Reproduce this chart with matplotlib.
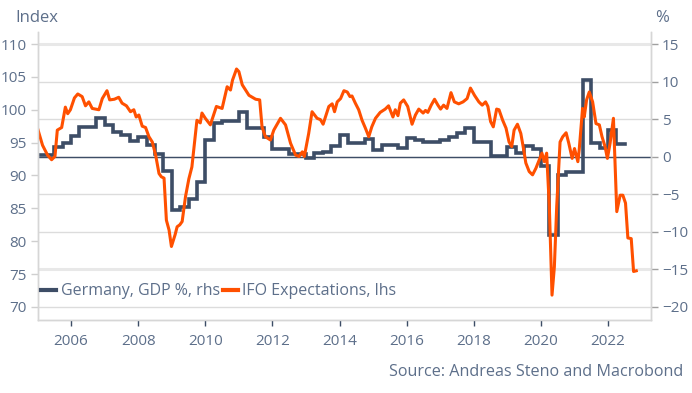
import matplotlib
matplotlib.use('Agg')
import matplotlib.pyplot as plt
from matplotlib.lines import Line2D

# IFO expectations (lhs) as (decimal year, index)
ifo_x = [2005.0, 2005.15, 2005.3, 2005.42, 2005.52, 2005.59, 2005.72, 2005.83, 2005.9, 2005.98,
         2006.1, 2006.2, 2006.33, 2006.43, 2006.53, 2006.63, 2006.83, 2006.93, 2007.07, 2007.15,
         2007.29, 2007.42, 2007.52, 2007.65, 2007.77, 2007.87, 2007.94, 2008.02, 2008.12, 2008.22,
         2008.32, 2008.42, 2008.52, 2008.62, 2008.69, 2008.77, 2008.84, 2008.92, 2008.99, 2009.1,
         2009.16, 2009.24, 2009.31, 2009.41, 2009.51, 2009.6, 2009.75, 2009.85, 2009.9, 2010.0,
         2010.15, 2010.33, 2010.5, 2010.65, 2010.75, 2010.81, 2010.93, 2011.0, 2011.1, 2011.3,
         2011.5, 2011.62, 2011.69, 2011.79, 2011.94, 2012.04, 2012.24, 2012.39, 2012.54, 2012.69,
         2012.79, 2012.89, 2012.95, 2013.08, 2013.18, 2013.33, 2013.43, 2013.51, 2013.68, 2013.78,
         2013.85, 2013.93, 2014.03, 2014.13, 2014.23, 2014.31, 2014.37, 2014.47, 2014.57, 2014.67,
         2014.77, 2014.87, 2014.96, 2015.07, 2015.21, 2015.36, 2015.46, 2015.59, 2015.66, 2015.74,
         2015.81, 2015.91, 2016.03, 2016.16, 2016.26, 2016.36, 2016.49, 2016.56, 2016.63, 2016.73,
         2016.83, 2016.93, 2017.01, 2017.1, 2017.2, 2017.32, 2017.42, 2017.55, 2017.68, 2017.8,
         2017.9, 2018.02, 2018.15, 2018.25, 2018.35, 2018.42, 2018.5, 2018.58, 2018.68, 2018.75,
         2018.86, 2018.96, 2019.05, 2019.13, 2019.2, 2019.3, 2019.4, 2019.47, 2019.55, 2019.65,
         2019.75, 2019.85, 2019.95, 2020.03, 2020.1, 2020.17, 2020.25, 2020.33, 2020.4, 2020.47,
         2020.57, 2020.65, 2020.75, 2020.83, 2020.93, 2021.0, 2021.1, 2021.14, 2021.24, 2021.29,
         2021.36, 2021.44, 2021.54, 2021.64, 2021.74, 2021.82, 2021.91, 2021.98, 2022.06, 2022.16,
         2022.26, 2022.36, 2022.44, 2022.52, 2022.59, 2022.69, 2022.76, 2022.84]
ifo_y = [97.2, 94.6, 93.1, 92.4, 92.9, 96.9, 97.3, 100.4, 99.4, 100.0,
         101.8, 102.4, 102.0, 100.6, 101.2, 100.2, 100.0, 101.7, 102.9, 101.5,
         101.6, 101.9, 101.0, 100.6, 99.7, 100.0, 98.9, 99.2, 97.5, 97.3,
         95.9, 95.1, 93.1, 90.3, 89.8, 89.6, 83.2, 81.7, 79.2, 81.0,
         82.2, 82.5, 83.0, 86.8, 89.5, 91.3, 98.4, 98.0, 99.5, 98.7,
         97.7, 100.5, 100.2, 103.5, 103.0, 104.5, 106.2, 105.8, 103.8, 102.2,
         101.6, 101.5, 97.4, 95.9, 95.4, 96.9, 98.7, 97.7, 94.9, 93.1,
         92.9, 93.6, 92.9, 96.4, 99.7, 98.7, 98.5, 97.8, 100.5, 100.9,
         99.7, 101.2, 101.7, 102.9, 102.7, 102.0, 102.1, 101.0, 100.0, 98.4,
         97.2, 95.9, 97.4, 98.7, 99.6, 100.1, 100.6, 98.9, 100.0, 99.1,
         101.0, 101.5, 100.5, 97.8, 99.2, 100.1, 99.5, 99.9, 99.6, 100.7,
         101.6, 100.7, 100.1, 100.7, 100.2, 102.6, 101.2, 100.9, 101.2, 101.7,
         103.3, 102.2, 101.2, 100.7, 101.2, 100.5, 98.2, 97.4, 100.1, 100.0,
         98.4, 97.2, 95.1, 94.4, 96.9, 97.8, 96.4, 94.4, 91.9, 90.6,
         90.1, 91.1, 92.4, 93.4, 92.1, 93.4, 85.3, 71.8, 76.1, 85.3,
         95.1, 95.9, 96.5, 94.9, 92.6, 94.1, 92.1, 93.9, 100.2, 98.9,
         101.5, 102.7, 101.2, 97.9, 97.7, 95.9, 94.4, 92.6, 94.9, 98.7,
         84.5, 87.0, 87.0, 85.8, 80.5, 80.4, 75.4, 75.5]

# Germany GDP y/y % (rhs), quarterly, quarter start as decimal year
gdp_x = [2005.0 + 0.25 * i for i in range(70)]
gdp_y = [0.2, 0.2, 1.25, 1.87, 2.8, 4.0, 4.0, 5.1, 4.2, 3.3,
         2.9, 2.1, 2.6, 1.55, 0.3, -1.9, -7.1, -6.65, -5.6, -3.3,
         2.2, 4.5, 4.8, 4.8, 6.0, 3.8, 3.8, 2.6, 1.0, 1.0,
         0.36, 0.36, -0.2, 0.45, 0.6, 1.4, 2.9, 1.87, 1.87, 2.3,
         0.9, 1.55, 1.5, 1.1, 2.5, 2.2, 2.0, 2.0, 2.2, 2.65,
         3.2, 3.8, 2.0, 1.9, 0.1, 0.1, 1.3, 0.55, 1.4, 1.0,
         -1.2, -10.4, -2.4, -2.1, -2.1, 10.2, 1.8, 1.1, 3.55, 1.7]
gdp_end = 2022.5

year_ticks = [2006, 2008, 2010, 2012, 2014, 2016, 2018, 2020, 2022]
left_ticks = [70, 75, 80, 85, 90, 95, 100, 105, 110]
right_ticks = [-20, -15, -10, -5, 0, 5, 10, 15]

orange = '#ff5000'
navy = '#3d4d66'
txt = '#5d6f8a'
grid = '#dcdcdc'

plt.rcParams['font.family'] = ['Open Sans', 'DejaVu Sans']

fig = plt.figure(figsize=(6.92, 3.93), dpi=100)
ax1 = fig.add_axes([0.0542, 0.1858, 0.8861, 0.7328])
ax2 = ax1.twinx()
ax1.set_zorder(ax2.get_zorder() + 1)
ax1.patch.set_visible(False)

# gridlines belong to the right axis
for v in right_ticks:
    lw = 2.2 if abs(v) == 15 else 1.0
    c = '#e8e8e8' if abs(v) == 15 else grid
    ax2.axhline(v, color=c, lw=lw, zorder=0)
ax2.axhline(0, color=navy, lw=1.0, zorder=1)

ax2.step(gdp_x + [gdp_end], gdp_y + [gdp_y[-1]], where='post', color=navy, lw=2.6,
         solid_joinstyle='miter')
ax1.plot(ifo_x, ifo_y, color=orange, lw=2.2, solid_joinstyle='round')

ax1.set_xlim(2005.0, 2023.27)
ax1.set_ylim(68.02, 111.83)
ax2.set_ylim(-21.73, 16.6)

ax1.set_xticks(year_ticks)
ax1.set_xticklabels([str(y) for y in year_ticks])
ax1.set_yticks(left_ticks)
ax2.set_yticks(right_ticks)

for ax in (ax1, ax2):
    ax.spines['top'].set_visible(False)
    for s in ('left', 'right', 'bottom'):
        ax.spines[s].set_color('#d6d6d6')
        ax.spines[s].set_linewidth(1.0)
ax1.tick_params(axis='x', colors=navy, length=4, width=1, labelcolor=txt, labelsize=11, pad=6)
ax1.tick_params(axis='y', colors='#cfcfcf', length=5, width=1, labelcolor=txt, labelsize=11, pad=3)
ax2.tick_params(axis='y', colors='#a0a0a0', length=5, width=1, labelcolor=txt, labelsize=11, pad=3)

fig.text(0.022, 0.955, 'Index', color=txt, fontsize=12, ha='left', va='center')
fig.text(0.947, 0.955, '%', color=txt, fontsize=12, ha='left', va='center')
fig.text(0.987, 0.053, 'Source: Andreas Steno and Macrobond', color=txt, fontsize=11.6,
         ha='right', va='center')

handles = [Line2D([], [], color=navy, lw=3), Line2D([], [], color=orange, lw=3)]
ax1.legend(handles, ['Germany, GDP %, rhs', 'IFO Expectations, lhs'], loc='center left',
           bbox_to_anchor=(-0.017, 0.10), ncol=2, frameon=False, handlelength=0.9,
           handletextpad=0.3, columnspacing=0.22, fontsize=11.5, labelcolor=txt)

fig.savefig('out.png', dpi=100)
